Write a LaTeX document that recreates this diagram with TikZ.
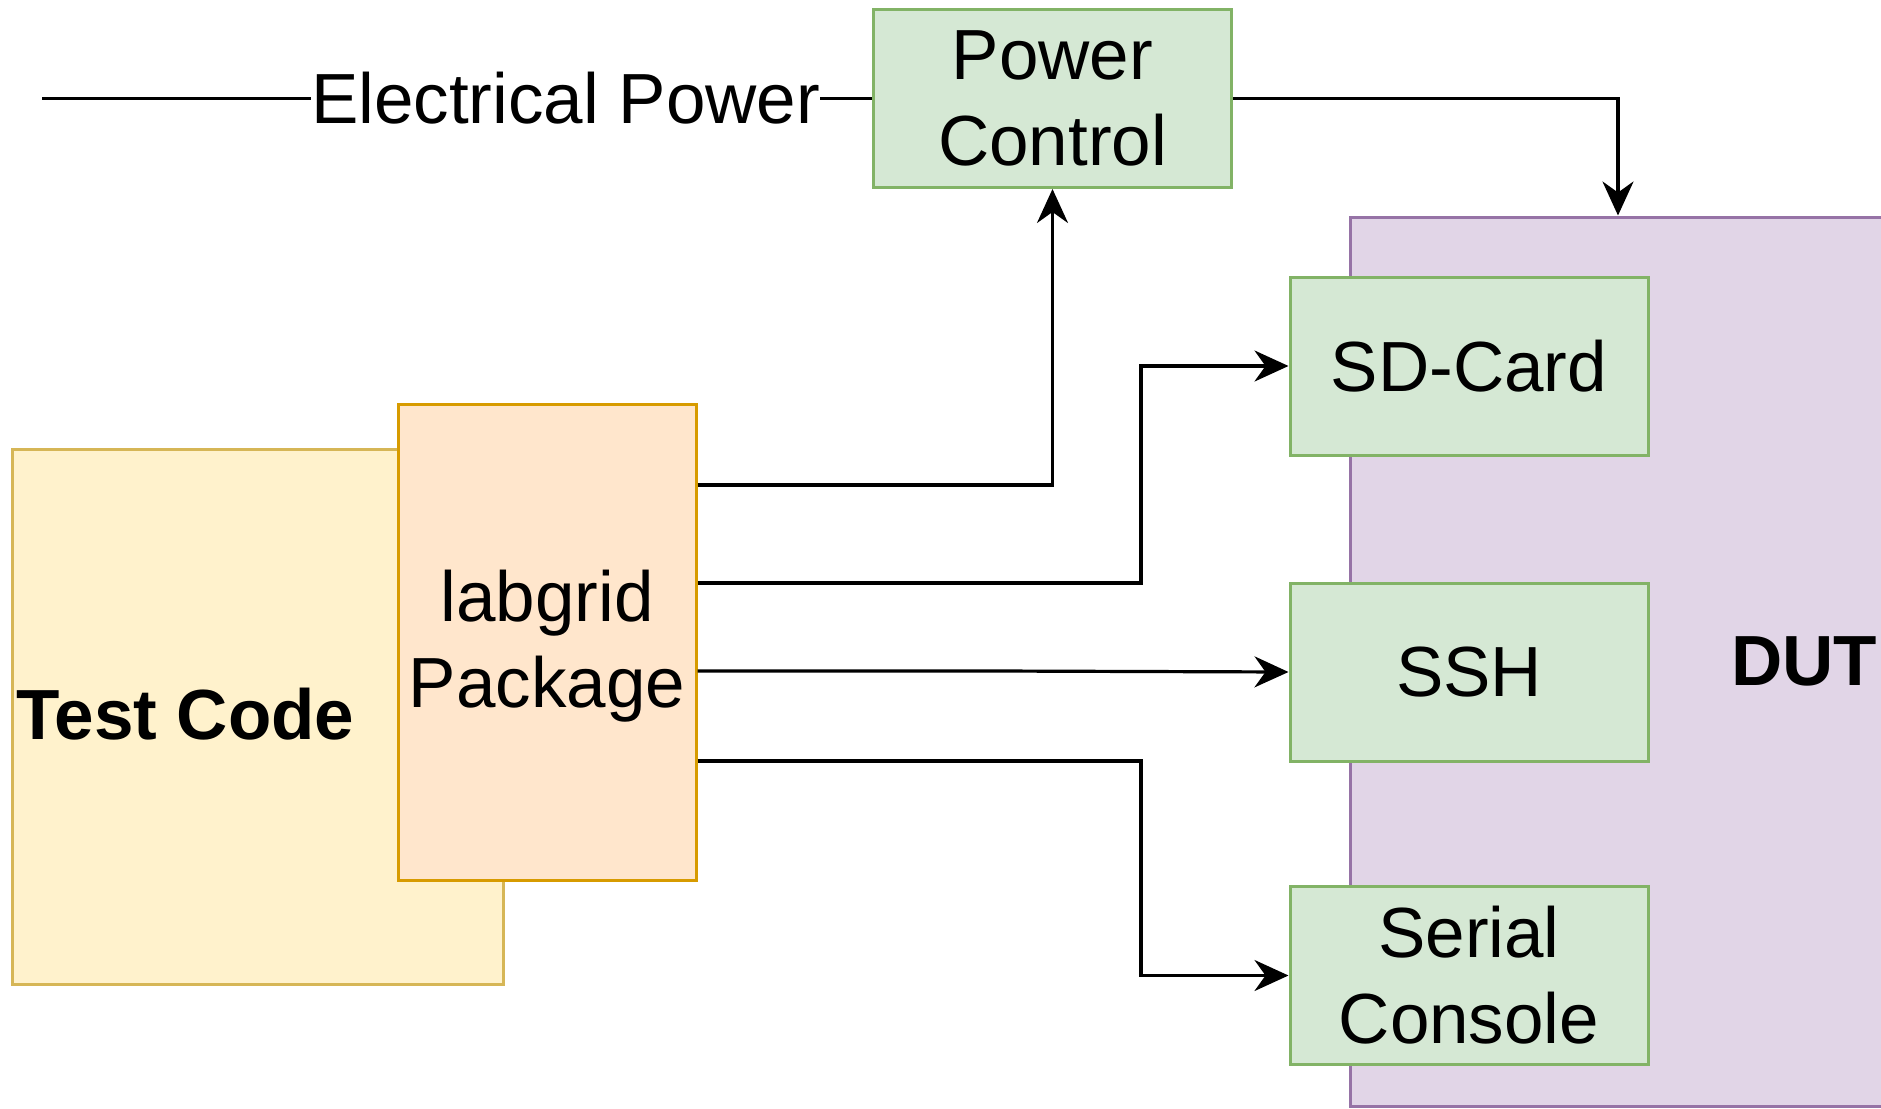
\documentclass[tikz,border=0pt]{standalone}
\usepackage{fontspec}
\setmainfont{Liberation Sans}
\usetikzlibrary{arrows.meta}
\definecolor{gfill}{HTML}{D5E8D4}
\definecolor{gline}{HTML}{82B366}
\definecolor{pfill}{HTML}{E1D5E7}
\definecolor{pline}{HTML}{9673A6}
\definecolor{yfill}{HTML}{FFF2CC}
\definecolor{yline}{HTML}{D6B656}
\definecolor{ofill}{HTML}{FFE6CC}
\definecolor{oline}{HTML}{D79B00}
\tikzset{
  txt/.style={font=\fontsize{35.5}{43}\selectfont, align=center, inner sep=0pt},
  box/.style={txt, draw, line width=1.5pt},
  gbox/.style={box, fill=gfill, draw=gline, minimum width=179pt, minimum height=89pt},
  wire/.style={line width=1.6pt, black},
  conn/.style={wire, -{Stealth[length=17pt,width=15.5pt,inset=5.5pt]}}
}
\begin{document}
\begin{tikzpicture}[x=0.5pt,y=-0.5pt]
\useasboundingbox (0,0) rectangle (1881,1109);
% Test code and labgrid
\node[box, fill=yfill, draw=yline, minimum width=245.5pt, minimum height=267.5pt] (tc) at (257.5,716.5) {};
\node[txt, font=\fontsize{35.5}{43}\selectfont\bfseries] (tct) at (185.5,714) {Test Code};
\node[box, fill=ofill, draw=oline, minimum width=149pt, minimum height=238pt] (lab) at (547,642) {};
\node[txt] (labt) at (547,646) {labgrid\\Package};
% DUT
\begin{scope}
\clip (0,0) rectangle (1881,1109);
\node[box, fill=pfill, draw=pline, minimum width=268pt, minimum height=444.5pt] (dut) at (1618,661.5) {};
\end{scope}
\node[txt, font=\fontsize{35.5}{43}\selectfont\bfseries] (dutt) at (1804,661) {DUT};
% Power control and interfaces
\node[gbox] (pc) at (1052.5,98.5) {Power\\Control};
\node[gbox] (sd) at (1469,366) {SD-Card};
\node[gbox] (ssh) at (1469,672) {SSH};
\node[gbox] (sc) at (1469,975.5) {Serial\\Console};
% Electrical power
\coordinate (ep) at (42,98.5);
\node[txt] (epl) at (565.5,98.5) {Electrical Power};
\draw[wire] (ep) -- (epl.west);
\draw[wire] (epl.east) -- (pc.west);
% connectors
\draw[conn] (pc.east) -| (dut.north);
\draw[conn] ([yshift=78.5pt]lab.east) -| (pc.south);
\draw[conn] ([yshift=29.5pt]lab.east) -- (1141,583) |- (sd.west);
\draw[conn] ([yshift=-14.5pt]lab.east) -- (996,671) -- (ssh.west);
\draw[conn] ([yshift=-59.5pt]lab.east) -- (1141,761) |- (sc.west);
\end{tikzpicture}
\end{document}
